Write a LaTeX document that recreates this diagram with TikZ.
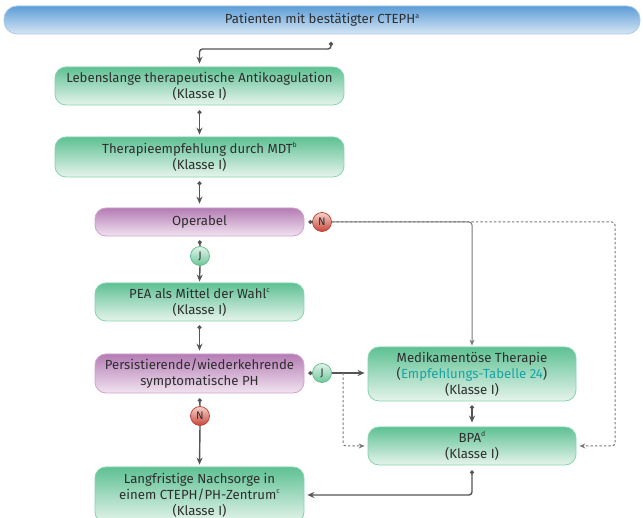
\documentclass[tikz,border=0pt]{standalone}
\usepackage{fontspec}
\setmainfont{Fira Sans}
\usetikzlibrary{arrows.meta}

\definecolor{txt}{HTML}{2E2E2E}
\definecolor{linkc}{HTML}{1AA3A3}
\definecolor{lin}{HTML}{555555}
\definecolor{linl}{HTML}{7A7A7A}
\definecolor{gtop}{HTML}{5EC193}
\definecolor{gbot}{HTML}{E6F4EC}
\definecolor{gborder}{HTML}{86D3AE}
\definecolor{ptop}{HTML}{B47CB4}
\definecolor{pbot}{HTML}{F1E3F0}
\definecolor{pborder}{HTML}{CFA2CF}
\definecolor{btop}{HTML}{5C9DD7}
\definecolor{bbot}{HTML}{D6E6F4}
\definecolor{bborder}{HTML}{A8C8E8}
\definecolor{ntop}{HTML}{F6D2CA}
\definecolor{nbot}{HTML}{C7463B}
\definecolor{nborder}{HTML}{BF3A2E}
\definecolor{jtop}{HTML}{E2F4EA}
\definecolor{jbot}{HTML}{6CC79A}
\definecolor{jborder}{HTML}{5DB98B}

% small raised footnote letter
\newcommand{\fnm}[1]{\raisebox{0.42em}{\fontsize{7}{7}\selectfont #1}}

\begin{document}
\begin{tikzpicture}[x=1pt,y=-1pt,
  box/.style={rounded corners=11pt, line width=0.8pt, align=center,
    inner sep=0pt, text=txt, font=\fontsize{13.2}{16}\selectfont},
  greenbox/.style={box, draw=gborder, top color=gtop, bottom color=gbot},
  purplebox/.style={box, draw=pborder, top color=ptop, bottom color=pbot},
  bluebox/.style={box, rounded corners=13pt, draw=bborder, top color=btop, bottom color=bbot},
  badge/.style={circle, minimum size=19pt, inner sep=0pt, line width=0.7pt,
    text=txt, font=\fontsize{11}{11}\selectfont},
  nbadge/.style={badge, draw=nborder, top color=ntop, bottom color=nbot},
  jbadge/.style={badge, draw=jborder, top color=jtop, bottom color=jbot},
  conn/.style={draw=lin, line width=1.4pt, -{Stealth[length=7pt,width=6pt]}},
  dconn/.style={draw=lin, line width=1.4pt, {Circle[length=4pt]}-{Stealth[length=7pt,width=6pt]}},
  dline/.style={draw=lin, line width=1.4pt, {Circle[length=4pt]}-},
  thin/.style={draw=linl, line width=1pt, -{Stealth[length=6pt,width=5pt]}},
  dashconn/.style={draw=linl, line width=1pt, dash pattern=on 2.5pt off 2pt,
    -{Stealth[length=6pt,width=5pt]}}
]
\useasboundingbox (0,0) rectangle (643,518);

% boxes
\node[bluebox, minimum width=636pt, minimum height=28pt] (top) at (322,20)
  {Patienten mit bestätigter CTEPH\fnm{a}};
\node[greenbox, minimum width=289pt, minimum height=38pt] (anti) at (199.5,86)
  {Lebenslange therapeutische Antikoagulation\\(Klasse I)};
\node[greenbox, minimum width=289pt, minimum height=40pt] (mdt) at (199.5,157)
  {Therapieempfehlung durch MDT\fnm{b}\\(Klasse I)};
\node[purplebox, minimum width=209pt, minimum height=28pt] (oper) at (199.5,222)
  {Operabel};
\node[greenbox, minimum width=209pt, minimum height=38pt] (pea) at (199.5,302)
  {PEA als Mittel der Wahl\fnm{c}\\(Klasse I)};
\node[purplebox, minimum width=209pt, minimum height=39pt] (pers) at (199.5,373.5)
  {Persistierende/wiederkehrende\\symptomatische PH};
\node[greenbox, minimum width=209pt, minimum height=56pt] (nach) at (199.5,495)
  {Langfristige Nachsorge in\\einem CTEPH/PH-Zentrum\fnm{c}\\(Klasse I)};
\node[greenbox, minimum width=208pt, minimum height=54pt] (med) at (472,374)
  {Medikamentöse Therapie\\(\textcolor{linkc}{Empfehlungs-Tabelle 24})\\(Klasse I)};
\node[greenbox, minimum width=208pt, minimum height=38pt] (bpa) at (472,446)
  {BPA\fnm{d}\\(Klasse I)};

% decision badges
\node[nbadge] (nA) at (322,222) {N};
\node[jbadge] (jA) at (200,256) {J};
\node[jbadge] (jB) at (322,373) {J};
\node[nbadge] (nB) at (200,416) {N};

% split points of the dashed branches
\coordinate (t0) at (331,42);
\coordinate (jsplit) at (343,373);

% connectors
\draw[dconn, rounded corners=3pt, shorten >=3pt] (t0) -- ++(0,7) -| (anti.north);
\draw[dconn, shorten <=5pt, shorten >=2pt] (anti.south) -- (mdt.north);
\draw[dconn, shorten <=4pt, shorten >=4pt] (mdt.south) -- (oper.north);
\draw[dline, shorten <=4pt] (oper.south) -- (jA.north);
\draw[conn, shorten >=1pt] (jA.south) -- (pea.north);
\draw[dconn, shorten <=4pt, shorten >=3pt] (pea.south) -- (pers.north);
\draw[dline, shorten <=4pt] (oper.east) -- (nA.west);
\draw[dline, shorten <=4pt] (pers.east) -- (jB.west);
\draw[dline, shorten <=5pt] (pers.south) -- (nB.north);
\draw[conn, shorten >=2pt] (nB.south) -- (nach.north);
\draw[conn, shorten >=3pt] (jB.east) -- (jB -| med.west);
\draw[dashconn, rounded corners=3pt, shorten >=3pt] (jsplit) |- (bpa.west);
\draw[thin, rounded corners=3pt, shorten >=1pt] (nA.east) -| (med.north);
\draw[dashconn, rounded corners=3pt, shorten >=3pt] (nA.east) -| (615,446) -- (bpa.east);
\draw[dconn, shorten <=4pt, shorten >=4pt] (med.south) -- (bpa.north);
\draw[dconn, rounded corners=3pt, shorten <=5pt, shorten >=3pt] (bpa.south) |- (nach.east);
\end{tikzpicture}
\end{document}
